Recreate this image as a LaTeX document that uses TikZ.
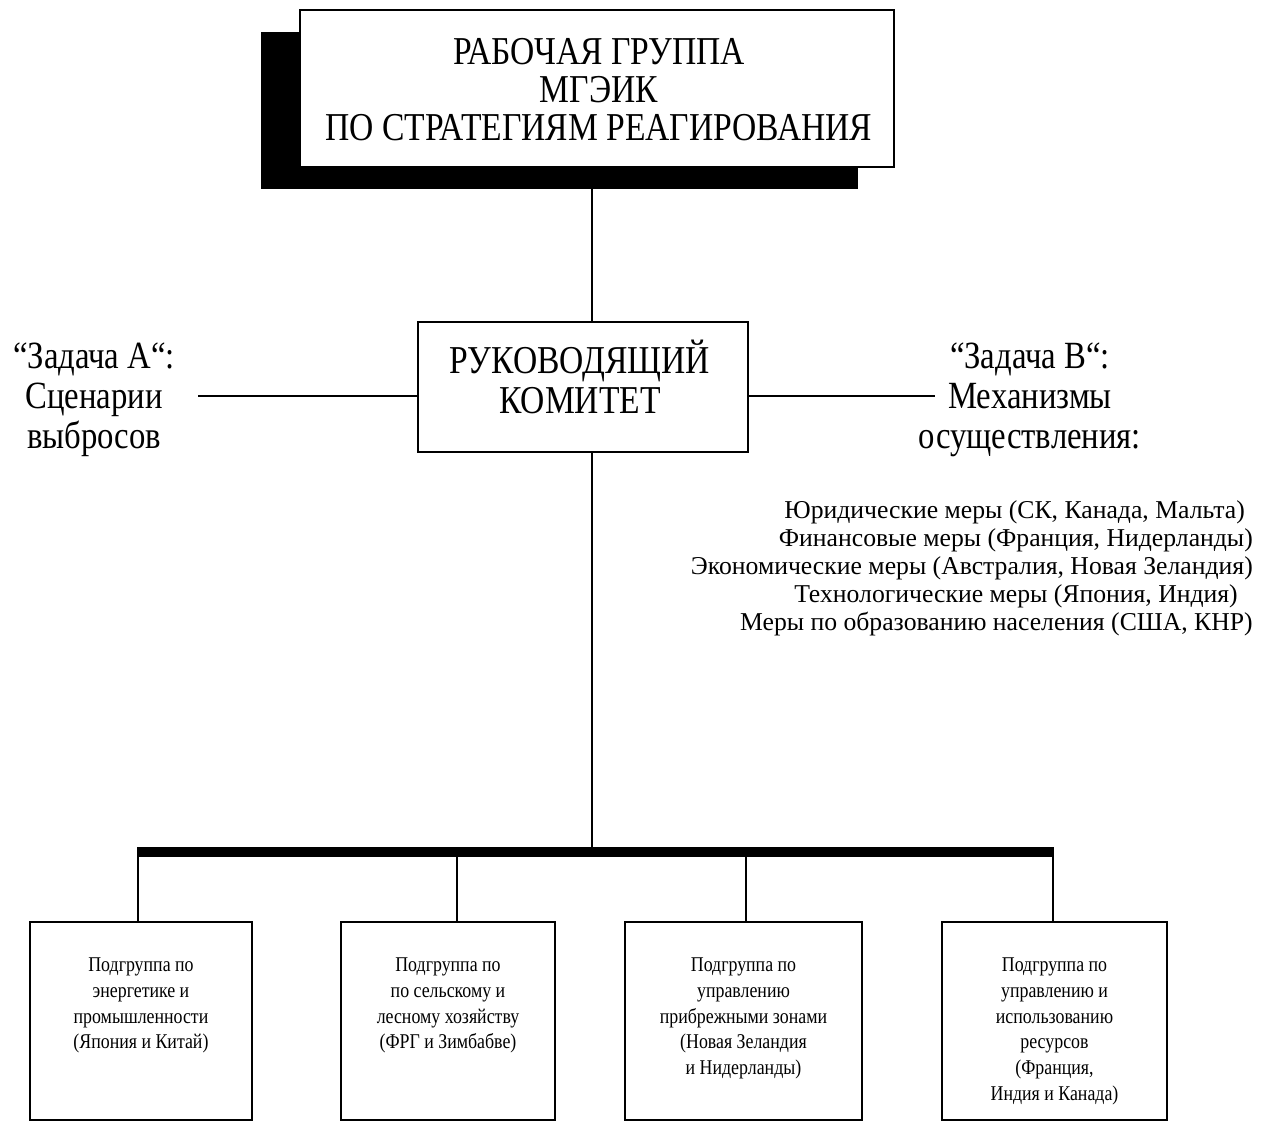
\documentclass[tikz,border=0pt]{standalone}
\usepackage{fontspec}
\setmainfont{Liberation Serif}
\newfontfamily\narrowserif[FakeStretch=0.85]{Liberation Serif}
\usetikzlibrary{calc}
\usetikzlibrary{positioning}

\begin{document}
\begin{tikzpicture}[
        x=1pt, y=-1pt,
        box/.style={draw, line width=2.2pt, fill=white, inner sep=0pt},
        link/.style={line width=1.8pt},
        bus/.style={line width=10pt},
        bigtext/.style={font=\narrowserif\fontsize{39.5}{38}\selectfont, align=center},
        tasktext/.style={font=\narrowserif\fontsize{38.5}{40}\selectfont, align=center},
        subtext/.style={font=\narrowserif\fontsize{21}{25.7}\selectfont, align=center, inner sep=0pt},
        measuretext/.style={font=\fontsize{25.7}{28}\selectfont, align=right, inner sep=0pt}
    ]
        \useasboundingbox (0,0) rectangle (1269,1121);

        % Рабочая группа (с тенью)
        \fill[black] (261,32) rectangle (858,189);
        \node[box, minimum width=594pt, minimum height=157pt] (wg) at (597,88.5) {};
        \node[bigtext] (wgtext) at (599,90)
            {РАБОЧАЯ ГРУППА\\ МГЭИК\\ ПО СТРАТЕГИЯМ РЕАГИРОВАНИЯ};

        % Руководящий комитет
        \node[box, minimum width=330pt, minimum height=130pt] (sc) at (583,387) {};
        \node[bigtext, font=\narrowserif\fontsize{39.5}{40}\selectfont] (sctext) at (580,377)
            {РУКОВОДЯЩИЙ\\ КОМИТЕТ};

        % Задачи А и В
        \node[tasktext] (taskA) at (94,400) {“Задача А“:\\ Сценарии\\ выбросов};
        \node[tasktext] (taskB) at (1030,400) {“Задача В“:\\ Механизмы\\ осуществления:};
        \coordinate (aend) at (198,396);
        \coordinate (bend) at (935,396);
        \draw[link] (aend) -- (aend -| sc.west);
        \draw[link] (sc.east |- bend) -- (bend);

        \node[measuretext, anchor=east] (measures) at (1253,568)
            {Юридические меры (СК, Канада, Мальта)\rule{8pt}{0pt}\\
             Финансовые меры (Франция, Нидерланды)\\
             Экономические меры (Австралия, Новая Зеландия)\\
             Технологические меры (Япония, Индия)\rule{15pt}{0pt}\\
             Меры по образованию населения (США, КНР)};

        % Вертикаль и шина
        \coordinate (trunk) at (592,0);
        \coordinate (busL) at (137,852);
        \coordinate (busR) at (1054,852);
        \draw[link] (trunk |- wg.south) -- (trunk |- sc.north);
        \draw[link] (trunk |- sc.south) -- (trunk |- busL);
        \draw[bus] (busL) -- (busR);

        % Подгруппы
        \node[box, minimum width=222pt, minimum height=198pt] (sub1) at (141,1021) {};
        \node[box, minimum width=214pt, minimum height=198pt] (sub2) at (448,1021) {};
        \node[box, minimum width=237pt, minimum height=198pt] (sub3) at (743.5,1021) {};
        \node[box, minimum width=225pt, minimum height=198pt] (sub4) at (1054.5,1021) {};

        \node[subtext, below=37pt of sub1.north] (sub1text)
            {Подгруппа по\\ энергетике и\\ промышленности\\ (Япония и Китай)};
        \node[subtext, below=37pt of sub2.north] (sub2text)
            {Подгруппа по\\ по сельскому и\\ лесному хозяйству\\ (ФРГ и Зимбабве)};
        \node[subtext, below=37pt of sub3.north] (sub3text)
            {Подгруппа по\\ управлению\\ прибрежными зонами\\ (Новая Зеландия\\ и Нидерланды)};
        \node[subtext, below=37pt of sub4.north] (sub4text)
            {Подгруппа по\\ управлению и\\ использованию\\ ресурсов\\ (Франция,\\ Индия и Канада)};

        \foreach \i/\xd in {1/138, 2/457, 3/746, 4/1053}
            \draw[link] (\xd,857) -- (\xd,0 |- sub\i.north);
    \end{tikzpicture}
\end{document}
